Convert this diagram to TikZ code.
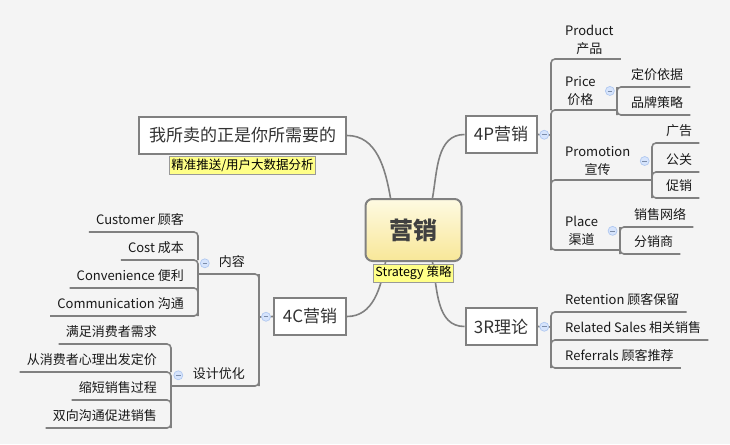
\documentclass[tikz,border=0pt]{standalone}
\usepackage{fontspec}
\setmainfont{Noto Sans CJK SC}
\usetikzlibrary{backgrounds}

\definecolor{bgcol}{RGB}{244,244,244}
\definecolor{linecol}{RGB}{128,128,128}
\definecolor{tagcol}{RGB}{255,255,136}
\definecolor{foldfill}{RGB}{214,228,252}
\definecolor{folddraw}{RGB}{176,200,240}
\definecolor{topcol}{RGB}{254,250,226}
\definecolor{botcol}{RGB}{248,231,152}

\begin{document}
\begin{tikzpicture}[x=1pt,y=-1pt,
  link/.style={draw=linecol,line width=1.6pt,rounded corners=4pt},
  topic/.style={draw=linecol,line width=2pt,fill=white,minimum width=71pt,minimum height=37pt,
    inner xsep=6pt,font=\fontsize{17}{20}\selectfont,text=black!80},
  tag/.style={draw=black!40,line width=0.8pt,fill=tagcol,inner xsep=2pt,inner ysep=2.5pt,
    font=\fontsize{12.5}{14}\selectfont},
  leaf/.style={inner xsep=7pt,inner ysep=4pt,text height=10pt,text depth=3pt,
    font=\fontsize{13}{16}\selectfont,text=black!90},
  leaftwo/.style={inner xsep=7pt,inner ysep=4pt,align=center,
    font=\fontsize{13}{18.5}\selectfont,text=black!90},
  fold/.style={circle,draw=folddraw,fill=foldfill,line width=0.7pt,inner sep=0pt,minimum size=9pt,
    path picture={\draw[folddraw!70!black,line width=0.7pt]
      ([xshift=-2.3pt]path picture bounding box.center) -- ([xshift=2.3pt]path picture bounding box.center);}}]
  \useasboundingbox (0,0) rectangle (730,444);

  % central topic
  \node[draw=linecol,line width=2pt,rounded corners=7pt,top color=topcol,bottom color=botcol,
        minimum width=96pt,minimum height=62pt,font=\fontsize{24}{28}\selectfont\bfseries,text=black!75]
        (mkt) at (413.5,230) {营销};
  \node[tag,anchor=north] (strat) at ([yshift=-1.5pt]mkt.south) {Strategy 策略};

  % main topics
  \node[topic,minimum width=207pt] (sell) at (242.5,135.5) {我所卖的正是你所需要的};
  \node[tag,anchor=north] (selltag) at ([yshift=-1pt]sell.south) {精准推送/用户大数据分析};
  \node[topic] (p4) at (501,134.5) {4P营销};
  \node[topic,minimum width=72pt] (c4) at (310,316.5) {4C营销};
  \node[topic] (r3) at (501,326.5) {3R理论};

  % bracket positions
  \coordinate (b4p) at (551,135);
  \coordinate (b3r) at (551,327);
  \coordinate (b4c) at (259,317);
  \coordinate (bprice) at (617,100);
  \coordinate (bpromo) at (652,170);
  \coordinate (bplace) at (620,240);
  \coordinate (bcont) at (198,274);
  \coordinate (bdes) at (171,386);

  % 4P
  \node[leaftwo,anchor=south west] (prod) at (558,59) {Product\\产品};
  \node[leaftwo,anchor=south west] (price) at (558,110) {Price\\价格};
  \node[leaftwo,anchor=south west] (promo) at (558,180) {Promotion\\宣传};
  \node[leaftwo,anchor=south west] (place) at (558,250) {Place\\渠道};
  \node[leaf,anchor=south west] (pr1) at (624,87) {定价依据};
  \node[leaf,anchor=south west] (pr2) at (624,115) {品牌策略};
  \node[leaf,anchor=south west] (pm1) at (659,143) {广告};
  \node[leaf,anchor=south west] (pm2) at (659,172) {公关};
  \node[leaf,anchor=south west] (pm3) at (659,198) {促销};
  \node[leaf,anchor=south west] (pl1) at (627,227) {销售网络};
  \node[leaf,anchor=south west] (pl2) at (627,254) {分销商};

  % 3R
  \node[leaf,anchor=south west] (rt) at (558,312) {Retention 顾客保留};
  \node[leaf,anchor=south west] (rs) at (558,340) {Related Sales 相关销售};
  \node[leaf,anchor=south west] (rf) at (558,368) {Referrals 顾客推荐};

  % 4C
  \node[leaf,anchor=south east] (cont) at (252,274) {内容};
  \node[leaf,anchor=south east] (des) at (252,386) {设计优化};
  \node[leaf,anchor=south east] (cu) at (191,232) {Customer 顾客};
  \node[leaf,anchor=south east] (co) at (191,260) {Cost 成本};
  \node[leaf,anchor=south east] (cv) at (191,288) {Convenience 便利};
  \node[leaf,anchor=south east] (cm) at (191,316) {Communication 沟通};
  \node[leaf,anchor=south east] (d1) at (164,344) {满足消费者需求};
  \node[leaf,anchor=south east] (d2) at (164,372) {从消费者心理出发定价};
  \node[leaf,anchor=south east] (d3) at (164,400) {缩短销售过程};
  \node[leaf,anchor=south east] (d4) at (164,428) {双向沟通促进销售};

  \begin{scope}[on background layer]
    \fill[bgcol] (0,0) rectangle (730,444);
    \draw[link] ([xshift=-23pt]mkt.north) to[out=100,in=0] (sell.east);
    \draw[link] ([xshift=19pt]mkt.north) to[out=80,in=180] (p4.west);
    \draw[link] ([xshift=-28pt]mkt.south) to[out=-100,in=0] (c4.east);
    \draw[link] ([xshift=19pt]mkt.south) to[out=-80,in=180] (r3.west);

    % right side brackets
    \draw[link] (p4.east) -- (b4p);
    \foreach \a/\b in {prod/price,price/promo,promo/place}
      \draw[link] (\a.south east) -- (\a.south -| b4p) -- (\b.south -| b4p);
    \draw[link] (place.south east) -- (place.south -| b4p) -- (promo.south -| b4p);
    \draw[link] (price.south east) -- (price.south -| bprice);
    \draw[link] (promo.south east) -- (promo.south -| bpromo);
    \draw[link] (place.south east) -- (place.south -| bplace);
    \draw[link] (pr1.south east) -- (pr1.south -| bprice) -- (pr2.south -| bprice);
    \draw[link] (pr2.south east) -- (pr2.south -| bprice) -- (pr1.south -| bprice);
    \foreach \a/\b in {pm1/pm2,pm2/pm3}
      \draw[link] (\a.south east) -- (\a.south -| bpromo) -- (\b.south -| bpromo);
    \draw[link] (pm3.south east) -- (pm3.south -| bpromo) -- (pm2.south -| bpromo);
    \draw[link] (pl1.south east) -- (pl1.south -| bplace) -- (pl2.south -| bplace);
    \draw[link] (pl2.south east) -- (pl2.south -| bplace) -- (pl1.south -| bplace);
    \draw[link] (r3.east) -- (b3r);
    \foreach \a/\b in {rt/rs,rs/rf}
      \draw[link] (\a.south east) -- (\a.south -| b3r) -- (\b.south -| b3r);
    \draw[link] (rf.south east) -- (rf.south -| b3r) -- (rs.south -| b3r);

    % left side brackets
    \draw[link] (c4.west) -- (b4c);
    \draw[link] (cont.south west) -- (cont.south -| b4c) -- (des.south -| b4c);
    \draw[link] (des.south west) -- (des.south -| b4c) -- (cont.south -| b4c);
    \draw[link] (cont.south west) -- (cont.south -| bcont);
    \draw[link] (des.south west) -- (des.south -| bdes);
    \foreach \a/\b in {cu/co,co/cv,cv/cm}
      \draw[link] (\a.south west) -- (\a.south -| bcont) -- (\b.south -| bcont);
    \draw[link] (cm.south west) -- (cm.south -| bcont) -- (cv.south -| bcont);
    \foreach \a/\b in {d1/d2,d2/d3,d3/d4}
      \draw[link] (\a.south west) -- (\a.south -| bdes) -- (\b.south -| bdes);
    \draw[link] (d4.south west) -- (d4.south -| bdes) -- (d3.south -| bdes);
  \end{scope}

  % collapse marks
  \path (p4.east) -- node[fold] (f4p) {} (b4p);
  \path (r3.east) -- node[fold] (f3r) {} (b3r);
  \path (c4.west) -- node[fold] (f4c) {} (b4c);
  \path (price.east) -- node[fold] (fprice) {} (price.east -| bprice);
  \path (promo.east) -- node[fold] (fpromo) {} (promo.east -| bpromo);
  \path (place.east) -- node[fold] (fplace) {} (place.east -| bplace);
  \path (cont.west) -- node[fold] (fcont) {} (cont.west -| bcont);
  \path (des.west) -- node[fold] (fdes) {} (des.west -| bdes);
\end{tikzpicture}
\end{document}
